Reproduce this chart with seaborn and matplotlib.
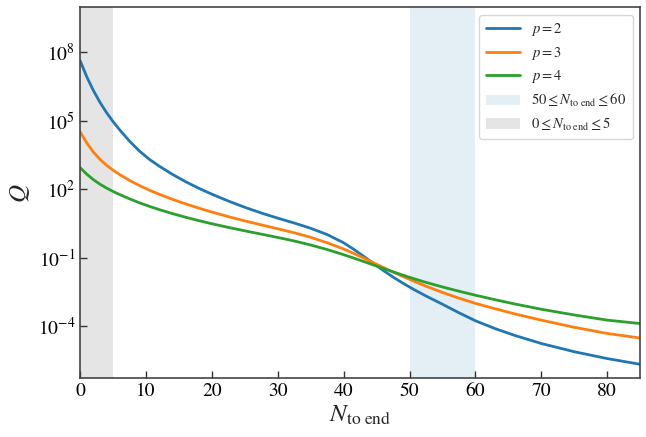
import numpy as np
import pandas as pd
import matplotlib
matplotlib.use("Agg")
import matplotlib.pyplot as plt
import matplotlib.ticker as mticker
import seaborn as sns

# ---- data (log10 Q) ----
N_vals = [0, 1, 2, 3, 4, 5, 6, 7.5, 9, 10.5, 12, 14, 16, 18, 20, 22.5, 25, 27.5,
          30, 32.5, 35, 37.5, 40, 41.5, 43, 44.5, 46, 47.5, 49, 50.5, 52.5, 55,
          57.5, 60, 63, 66, 70, 75, 80, 85]
logQ_p2 = [7.64, 6.94, 6.34, 5.82, 5.37, 4.97, 4.61, 4.115, 3.68, 3.32, 3.02,
           2.66, 2.34, 2.05, 1.79, 1.49, 1.215, 0.965, 0.74, 0.527, 0.297, 0.022,
           -0.34, -0.618, -0.925, -1.24, -1.548, -1.84, -2.11, -2.36, -2.67,
           -3.03, -3.405, -3.755, -4.10, -4.40, -4.75, -5.11, -5.41, -5.66]
logQ_p3 = [4.52, 4.04, 3.64, 3.32, 3.06, 2.84, 2.65, 2.395, 2.17, 1.967, 1.787,
           1.567, 1.367, 1.181, 1.007, 0.807, 0.62, 0.445, 0.275, 0.10, -0.10,
           -0.337, -0.612, -0.80, -1.00, -1.21, -1.42, -1.62, -1.815, -2.0,
           -2.24, -2.515, -2.765, -2.99, -3.23, -3.455, -3.727, -4.04, -4.31,
           -4.51]
logQ_p4 = [2.95, 2.67, 2.43, 2.23, 2.06, 1.91, 1.775, 1.588, 1.415, 1.258,
           1.115, 0.941, 0.781, 0.633, 0.495, 0.335, 0.185, 0.04, -0.105, -0.26,
           -0.435, -0.635, -0.86, -1.005, -1.155, -1.308, -1.461, -1.611,
           -1.757, -1.897, -2.073, -2.273, -2.46, -2.635, -2.833, -3.02, -3.25,
           -3.50, -3.726, -3.876]
series_labels = [r"$p=2$", r"$p=3$", r"$p=4$"]
span_ranges = [(50, 60), (0, 5)]
span_labels = [r"$50\leq N_{\rm to\ end}\leq 60$", r"$0\leq N_{\rm to\ end}\leq 5$"]
ytick_exps = [-4, -1, 2, 5, 8]
xticks = [0, 10, 20, 30, 40, 50, 60, 70, 80]

sns.set_style("ticks")
plt.rcParams["font.family"] = ["STIXGeneral", "DejaVu Serif"]
plt.rcParams["mathtext.fontset"] = "stix"

fig = plt.figure(figsize=(6.46, 4.37), dpi=100)
ax = fig.add_axes([0.124, 0.134, 0.867, 0.849])

colors = sns.color_palette("tab10", 3)
for logq, lab, c in zip([logQ_p2, logQ_p3, logQ_p4], series_labels, colors):
    df = pd.DataFrame({"N": N_vals, "Q": 10.0 ** np.array(logq)})
    sns.lineplot(data=df, x="N", y="Q", ax=ax, color=c, lw=2, label=lab)

span_colors = [(31/255, 119/255, 180/255, 0.12), (0.5, 0.5, 0.5, 0.2)]
for (a, b), lab, c in zip(span_ranges, span_labels, span_colors):
    ax.axvspan(a, b, color=c, lw=0, label=lab, zorder=0)

ax.set_yscale("log")
ax.set_xlim(0, 85)
ax.set_ylim(10 ** -6.28, 10 ** 9.97)
ax.yaxis.set_major_locator(mticker.FixedLocator([10.0 ** e for e in ytick_exps]))
ax.yaxis.set_major_formatter(mticker.LogFormatterSciNotation())
ax.yaxis.set_minor_locator(mticker.NullLocator())
ax.set_xticks(xticks)
ax.tick_params(direction="in", length=5, width=1, labelsize=14, colors="#333333",
               labelcolor="black")
for s in ax.spines.values():
    s.set_color("#444444")
    s.set_linewidth(1.2)

ax.set_xlabel(r"$N_{\rm to\ end}$", fontsize=18, labelpad=2)
ax.set_ylabel(r"$Q$", fontsize=18, labelpad=4)

leg = ax.legend(loc="upper right", fontsize=10.5, frameon=True, fancybox=True,
                borderpad=0.45, labelspacing=0.45, handlelength=2.3)
leg.get_frame().set_edgecolor("#cccccc")

fig.savefig("out.png", dpi=100)
